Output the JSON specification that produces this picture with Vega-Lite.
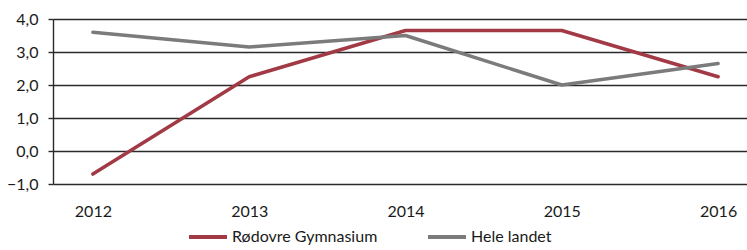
{
  "$schema": "https://vega.github.io/schema/vega-lite/v6.json",
  "width": 694,
  "height": 165,
  "autosize": {"type": "none"},
  "padding": {"left": 53, "top": 19, "right": 0, "bottom": 66},
  "background": "white",
  "config": {
    "view": {"stroke": null},
    "font": "Lato",
    "axis": {"labelFont": "Lato", "labelFontSize": 16, "labelColor": "#1a1a1a"},
    "legend": {"labelFont": "Lato", "labelFontSize": 16, "labelColor": "#1a1a1a"}
  },
  "data": {
    "values": [
      {"year": "2012", "serie": "Rødovre Gymnasium", "value": -0.7},
      {"year": "2013", "serie": "Rødovre Gymnasium", "value": 2.25},
      {"year": "2014", "serie": "Rødovre Gymnasium", "value": 3.65},
      {"year": "2015", "serie": "Rødovre Gymnasium", "value": 3.65},
      {"year": "2016", "serie": "Rødovre Gymnasium", "value": 2.25},
      {"year": "2012", "serie": "Hele landet", "value": 3.6},
      {"year": "2013", "serie": "Hele landet", "value": 3.15},
      {"year": "2014", "serie": "Hele landet", "value": 3.5},
      {"year": "2015", "serie": "Hele landet", "value": 2.0},
      {"year": "2016", "serie": "Hele landet", "value": 2.65}
    ]
  },
  "mark": {"type": "line", "strokeWidth": 3.5, "strokeCap": "round", "strokeJoin": "round"},
  "encoding": {
    "x": {
      "field": "year",
      "type": "ordinal",
      "scale": {"type": "point", "padding": 0.22, "align": 0.58},
      "axis": {"title": null, "domain": false, "ticks": false, "labelAngle": 0, "labelPadding": 19, "grid": false}
    },
    "y": {
      "field": "value",
      "type": "quantitative",
      "scale": {"domain": [-1, 4], "nice": false, "zero": false},
      "axis": {
        "title": null,
        "values": [-1, 0, 1, 2, 3, 4],
        "labelExpr": "replace(format(datum.value, '.1f'), '.', ',')",
        "grid": true,
        "gridColor": "#2a2a2a",
        "gridWidth": 1.4,
        "domainColor": "#2a2a2a",
        "domainWidth": 1.4,
        "tickColor": "#2a2a2a",
        "tickWidth": 1.4,
        "tickSize": 5,
        "labelPadding": 10
      }
    },
    "color": {
      "field": "serie",
      "type": "nominal",
      "sort": ["Rødovre Gymnasium", "Hele landet"],
      "scale": {"domain": ["Rødovre Gymnasium", "Hele landet"], "range": ["#a23a45", "#7b7b7b"]},
      "legend": {
        "title": null,
        "orient": "none",
        "legendX": 134,
        "legendY": 197,
        "direction": "horizontal",
        "symbolType": "stroke",
        "symbolSize": 1444,
        "symbolStrokeWidth": 4,
        "columnPadding": 42,
        "labelOffset": 3
      }
    }
  }
}
